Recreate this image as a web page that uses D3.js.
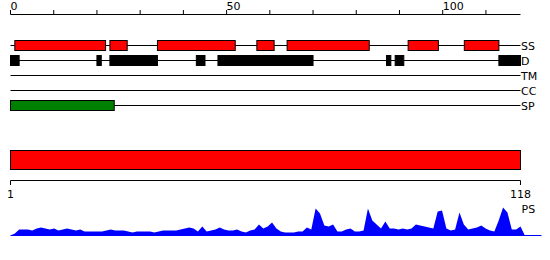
<!DOCTYPE html>
<html>
<head>
<meta charset="utf-8">
<script src="https://cdn.jsdelivr.net/npm/d3@7"></script>
<style>
  body { margin: 0; background: #fff; }
  svg text { font-family: "DejaVu Sans", sans-serif; font-size: 11px; fill: #000; }
</style>
</head>
<body>
<div id="chart"></div>
<script>
// feature tracks, [start, end] in sequence position
const trackNames = ["SS", "D", "TM", "CC", "SP"];
const ssSegments = [[1, 22], [23, 27], [34, 52], [57, 61], [64, 83], [92, 99], [105, 113]];
const dSegments = [[0, 2], [20, 21], [23, 34], [43, 45], [48, 70], [87, 88], [89, 91], [113, 118]];
const tmSegments = [];
const ccSegments = [];
const spSegments = [[0, 24]];
const trackColors = ["#ff0000", "#000000", "#000000", "#000000", "#008000"];

const seqLength = 118;
const topTicks = [0, 10, 20, 30, 40, 50, 60, 70, 80, 90, 100, 110];
const topLabels = [0, 50, 100];

// PS profile, one value per residue (trailing 0 closes the area)
const psValues = [
  0, 2, 6, 6, 6, 5, 7, 8, 7, 6,
  7, 5, 6, 7, 6, 5, 6, 4, 4, 4,
  4, 4, 5, 6, 5, 5, 5, 4, 3, 4,
  4, 4, 4, 3, 4, 5, 5, 5, 5, 6,
  7, 8, 7, 4, 9, 4, 5, 6, 8, 6,
  5, 5, 6, 4, 3, 5, 6, 11, 7, 9,
  13, 7, 4, 3, 3, 3, 4, 4, 8, 6,
  27, 22, 10, 9, 11, 4, 4, 6, 7, 4,
  4, 5, 27, 15, 11, 7, 14, 7, 7, 6,
  7, 6, 7, 11, 10, 9, 8, 7, 24, 25,
  7, 5, 6, 23, 11, 6, 7, 8, 10, 7,
  5, 4, 15, 28, 23, 6, 6, 9, 0
];

const width = 550, height = 260;
const svg = d3.select("#chart").append("svg")
  .attr("width", width)
  .attr("height", height);

const left = 10.5, right = 520.5;

// top ruler
const x = d3.scaleLinear().domain([0, seqLength]).range([left, right]);
const topAxis = svg.append("g").attr("transform", "translate(0,14.5)");
topAxis.append("line")
  .attr("x1", x(0)).attr("x2", x(seqLength))
  .attr("stroke", "#000");
topAxis.selectAll("line.tick")
  .data(topTicks)
  .join("line")
  .attr("class", "tick")
  .attr("x1", d => x(d)).attr("x2", d => x(d))
  .attr("y1", -4.5).attr("y2", 0)
  .attr("stroke", "#000");
topAxis.selectAll("text")
  .data(topLabels)
  .join("text")
  .attr("x", d => x(d))
  .attr("y", -5)
  .text(d => d);

// tracks
const trackData = [ssSegments, dSegments, tmSegments, ccSegments, spSegments];
const yTrack = d3.scalePoint().domain(trackNames).range([45, 105]);
const rows = svg.selectAll("g.track")
  .data(trackNames)
  .join("g")
  .attr("class", "track")
  .attr("transform", d => `translate(0,${yTrack(d) + 0.5})`);

rows.append("line")
  .attr("x1", x(0)).attr("x2", x(seqLength))
  .attr("stroke", "#000");

rows.each(function (name, i) {
  d3.select(this).selectAll("rect")
    .data(trackData[i])
    .join("rect")
    .attr("x", d => x(d[0]))
    .attr("y", -5)
    .attr("width", d => x(d[1]) - x(d[0]))
    .attr("height", 10)
    .attr("fill", trackColors[i])
    .attr("stroke", "#000");
});

rows.append("text")
  .attr("x", x(seqLength) + 0.5)
  .attr("y", 4)
  .text(d => d);

// full length bar
svg.append("rect")
  .attr("x", x(0))
  .attr("y", 150.5)
  .attr("width", x(seqLength) - x(0))
  .attr("height", 19)
  .attr("fill", "#ff0000")
  .attr("stroke", "#000");

// bottom ruler
const psX = d3.scaleLinear().domain([1, seqLength]).range([left, right]);
const bottomAxis = svg.append("g").attr("transform", "translate(0,180.5)");
bottomAxis.append("line")
  .attr("x1", psX(1)).attr("x2", psX(seqLength))
  .attr("stroke", "#000");
bottomAxis.selectAll("line.tick")
  .data([1, seqLength])
  .join("line")
  .attr("class", "tick")
  .attr("x1", d => psX(d)).attr("x2", d => psX(d))
  .attr("y1", 0).attr("y2", 4.5)
  .attr("stroke", "#000");
bottomAxis.selectAll("text")
  .data([1, seqLength])
  .join("text")
  .attr("x", d => psX(d))
  .attr("y", 17)
  .attr("text-anchor", "middle")
  .text(d => d);

// PS profile
const psY = d3.scaleLinear().domain([0, 30]).range([235.5, 205.5]);
const area = d3.area()
  .x((d, i) => psX(i + 1))
  .y0(psY(0))
  .y1(d => psY(d));

svg.append("path")
  .datum(psValues)
  .attr("d", area)
  .attr("fill", "#0000ff");

svg.append("line")
  .attr("x1", psX(1)).attr("x2", psX.range()[1] + 21)
  .attr("y1", psY(0)).attr("y2", psY(0))
  .attr("stroke", "#0000ff");

svg.append("text")
  .attr("x", psX(seqLength) + 1)
  .attr("y", 213)
  .text("PS");
</script>
</body>
</html>
